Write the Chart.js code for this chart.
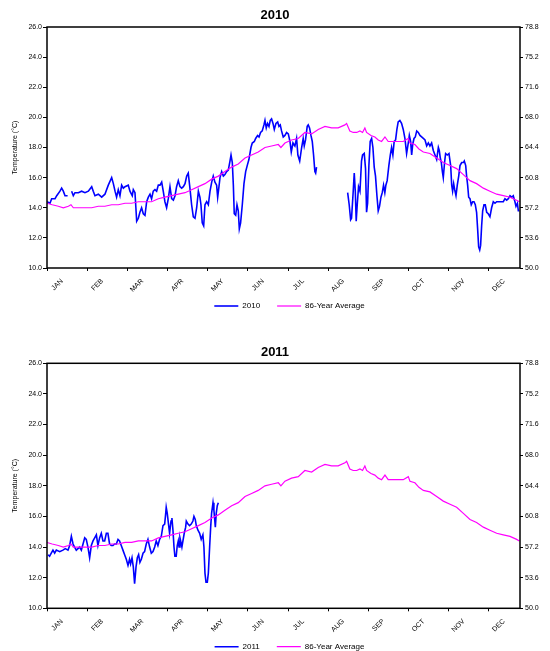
<!DOCTYPE html>
<html>
<head>
<meta charset="utf-8">
<script src="https://cdn.jsdelivr.net/npm/chart.js@4.4.1/dist/chart.umd.min.js"></script>
<style>
  html, body { margin: 0; padding: 0; background: #fff; overflow: hidden; }
  .panel { position: absolute; left: 0; width: 550px; }
  #panel2010 { top: 0; height: 340px; }
  #panel2011 { top: 325px; height: 360px; }
</style>
</head>
<body>
<div class="panel" id="panel2010"><canvas id="chart2010" width="550" height="340"></canvas></div>
<div class="panel" id="panel2011"><canvas id="chart2011" width="550" height="360"></canvas></div>
<script>
const FONT = "'Liberation Sans', Arial, sans-serif";

const monthLabels = ["JAN", "FEB", "MAR", "APR", "MAY", "JUN", "JUL", "AUG", "SEP", "OCT", "NOV", "DEC"];
const fahrenheitTicks = [50.0, 53.6, 57.2, 60.8, 64.4, 68.0, 71.6, 75.2, 78.8];

// 86-year average (day of year, deg C)
const avgDays = [
  0, 4, 8.7, 12.6, 16.5, 18.5, 20.3, 24.2, 29.3, 34.5,
  39.6, 44.7, 49.9, 55, 60.2, 65.3, 70.5, 75.6, 80.7, 85.9,
  91, 96.2, 101.3, 106.5, 111.6, 116.8, 121.9, 127.1, 132.2, 137.3,
  142.5, 147.6, 152.8, 157.9, 163, 168.2, 173.3, 178.5, 180.5, 183.6,
  188.7, 193.9, 199, 204.2, 209.3, 214.5, 219.6, 224.7, 229.9, 231.2,
  233.7, 236.3, 239, 241.5, 243.5, 245.3, 246.6, 250, 253, 255.6,
  258.2, 260.8, 263.3, 267.2, 271, 274.9, 278.8, 280.1, 283.9, 287,
  290.4, 295.5, 300.7, 305.8, 311, 316.1, 321.3, 326.4, 331.5, 336.7,
  341.8, 347, 352.1, 357.3, 362.4, 364.5
];
const avgTemps = [
  14.3, 14.2, 14.1, 14.0, 14.1, 14.2, 14.0, 14.0, 14.0, 14.0,
  14.1, 14.1, 14.2, 14.2, 14.3, 14.3, 14.4, 14.4, 14.4, 14.6,
  14.7, 14.8, 14.9, 15.0, 15.2, 15.4, 15.6, 15.9, 16.1, 16.4,
  16.7, 16.9, 17.3, 17.5, 17.7, 18.0, 18.1, 18.2, 18.0, 18.3,
  18.5, 18.6, 19.0, 18.9, 19.2, 19.4, 19.3, 19.3, 19.5, 19.6,
  19.1, 19.0, 19.0, 19.1, 19.0, 19.3, 19.0, 18.8, 18.7, 18.5,
  18.4, 18.7, 18.4, 18.4, 18.4, 18.4, 18.6, 18.3, 18.2, 17.9,
  17.7, 17.6, 17.3, 17.0, 16.8, 16.6, 16.2, 15.8, 15.6, 15.3,
  15.1, 14.9, 14.8, 14.7, 14.5, 14.4
];

// 2010 daily readings, null = missing data
const days2010 = [
  0, 2.3, 3.6, 6.2, 7.5, 10, 11.3, 12.6, 13.9, 15.9,
  17.5,
  19, 20.3, 21.6, 24.2, 26.7, 29.3, 31.9, 34.5, 35.7, 37,
  39.6, 42.2, 44.7, 47.3, 49.9, 51.2, 52.5, 53.7, 55, 56.3,
  57.6, 58.9, 60.2, 62.7, 64, 65.8, 66.6, 67.9, 69.2, 70.5,
  71.7, 73, 74.3, 75.6, 76.9, 78.2, 79.5, 80.7, 82, 83.3,
  84.6, 85.9, 87.2, 88.5, 89.7, 91, 92.3, 93.6, 94.9, 96.2,
  97.5, 98.8, 100, 101.3, 102.6, 103.9, 105.2, 106.5, 107.8, 109,
  110.3, 111.6, 112.9, 114.2, 115.5, 116.8, 118, 118.8, 119.8, 120.9,
  121.9, 123.2, 124.5, 125.8, 127.1, 128.3, 129.6, 130.9, 131.7, 132.7,
  133.5, 134.8, 136.1, 137.3, 138.6, 139.9, 141.2, 142, 143, 143.8,
  144.5, 145.6, 146.6, 147.6, 148.4, 149.4, 150.7, 152, 153.3, 154.5,
  155.8, 157.4, 158.4, 160, 161, 162.5, 163.6, 164.8, 166.1, 167.4,
  168.2, 169.2, 170.2, 171.3, 172.3, 173.3, 174.4, 175.4, 176.7, 178,
  179, 180, 181, 182.3, 183.6, 184.9, 186.2, 187.5, 188.5, 189.8,
  191.3, 192.6, 193.6, 195, 196.5, 197.7, 198.5, 199.5, 200.8, 201.6,
  202.6, 203.7, 204.7, 205.7, 206.7, 207.3, 208,
  220,
  232, 233.2, 234.3, 235, 236.3, 237.1, 237.9, 238.6, 239.4, 240.4,
  241.5, 242.7, 243.5, 244.8, 245.8, 246.6, 247.4, 248.4, 249.4, 250.5,
  251.5, 252.5, 253.5, 254.6, 255.6, 256.6, 257.7, 258.7, 259.7, 260.7,
  261.5, 262.5, 263.8, 264.9, 265.9, 266.9, 267.9, 269, 270, 271,
  272.3, 273.6, 274.9, 276.2, 277.5, 278.8, 279.6, 280.6, 281.4, 282.2,
  283.2, 284.2, 285.3, 286.5, 287.8, 289.1, 290.4, 291.7, 293, 294.3,
  295.5, 296.8, 298.1, 299.4, 300.7, 302, 302.7, 303.5, 304.3, 305.1,
  305.8, 306.9, 307.6, 308.9, 310.2, 311.5, 312.3, 313, 313.8, 314.6,
  315.6, 316.6, 317.7, 318.7, 320, 321.3, 322, 323.1, 323.8, 324.6,
  325.4, 326.4, 327.4, 328.5, 329.5, 330.5, 331.5, 332.3, 333.1, 333.9,
  334.6, 335.4, 336.2, 337.2, 338.2, 339.3, 340.5, 341.8, 343.1, 344.4,
  345.7, 347, 349.5, 352.1, 353.4, 354.7, 356, 357.3, 358.6, 359.8,
  361.1, 361.9, 363, 363.7, 364.5
];
const temps2010 = [
  14.4, 14.3, 14.6, 14.6, 14.8, 15.1, 15.3, 15.1, 14.8, 14.8,
  null,
  15.1, 14.8, 15.0, 15.0, 15.1, 15.0, 15.1, 15.4, 15.1, 14.8,
  14.9, 14.7, 14.9, 15.5, 16.0, 15.6, 15.1, 14.7, 15.2, 14.8,
  15.5, 15.3, 15.4, 15.5, 15.1, 14.8, 15.2, 15.0, 13.1, 13.3,
  13.7, 14.0, 13.6, 13.5, 14.4, 14.7, 14.9, 14.6, 15.1, 15.2,
  15.1, 15.5, 15.5, 15.7, 15.1, 14.4, 14.0, 14.6, 15.4, 14.6,
  14.5, 14.8, 15.4, 15.8, 15.4, 15.3, 15.4, 15.6, 16.1, 16.3,
  15.3, 14.2, 13.4, 13.3, 14.0, 15.1, 14.7, 14.2, 13.0, 12.8,
  14.2, 14.4, 14.2, 15.1, 15.7, 16.1, 15.7, 15.5, 14.7, 15.4,
  16.0, 16.4, 16.1, 16.2, 16.4, 16.5, 17.1, 17.5, 17.0, 15.5,
  13.6, 13.5, 14.2, 13.8, 12.6, 13.0, 14.2, 15.6, 16.4, 16.8,
  17.2, 18.0, 18.3, 18.4, 18.6, 18.8, 18.7, 19.0, 19.1, 19.5,
  19.8, 19.3, 19.6, 19.4, 19.8, 19.9, 19.6, 19.2, 19.6, 19.7,
  19.4, 19.5, 19.1, 18.7, 18.8, 19.0, 18.9, 18.4, 17.7, 18.3,
  18.1, 18.6, 17.5, 17.1, 18.0, 18.6, 18.1, 18.5, 19.4, 19.5,
  19.3, 18.8, 18.4, 17.5, 16.4, 16.3, 16.7,
  null,
  15.0, 14.2, 13.2, 13.3, 15.1, 16.3, 15.1, 13.1, 14.2, 15.4,
  15.1, 17.1, 17.5, 17.6, 16.6, 13.7, 14.3, 16.8, 18.4, 18.6,
  18.0, 16.7, 16.1, 14.8, 13.8, 14.1, 14.7, 15.0, 15.5, 15.0,
  15.5, 15.8, 16.8, 17.5, 18.0, 17.5, 18.4, 18.5, 19.2, 19.7,
  19.8, 19.6, 19.2, 18.6, 17.6, 18.3, 18.8, 18.4, 17.5, 18.2,
  18.6, 18.7, 19.1, 19.0, 18.8, 18.7, 18.6, 18.5, 18.1, 18.3,
  18.1, 18.3, 17.8, 17.5, 17.2, 18.0, 17.8, 17.3, 17.0, 16.4,
  16.0, 17.1, 17.6, 17.5, 17.6, 16.8, 15.5, 15.1, 15.6, 15.2,
  14.8, 15.5, 16.1, 16.8, 17.0, 17.0, 17.1, 16.8, 16.1, 15.5,
  14.7, 14.6, 14.2, 14.4, 14.4, 14.2, 13.7, 12.6, 11.4, 11.2,
  11.5, 12.8, 13.8, 14.2, 14.2, 13.7, 13.6, 13.4, 14.0, 14.4,
  14.3, 14.4, 14.4, 14.4, 14.6, 14.5, 14.6, 14.8, 14.7, 14.8,
  14.4, 14.1, 14.3, 13.8, 13.8
];

// 2011 readings (data ends in early May)
const days2011 = [
  0.8, 2, 3.3, 4.6, 5.9, 7.2, 9.8, 12.3, 14.1, 16.2,
  17.5, 18.8, 20.1, 21.3, 22.6, 23.9, 25.2, 26.5, 27.8, 29.1,
  30.3, 31.6, 32.9, 34.2, 35.5, 36.8, 38.1, 39.3, 40.6, 41.9,
  43.2, 44.5, 45.8, 47, 48.3, 49.6, 50.9, 52.2, 53.5, 54.8,
  56, 57.3, 58.6, 59.9, 61.2, 62.5, 63.7, 64.5, 65.6, 66.6,
  67.6, 68.7, 69.7, 70.7, 71.7, 72.8, 74.1, 75.3, 76.6, 77.9,
  79.2, 80.5, 81.8, 83.1, 84.3, 85.6, 86.9, 88.2, 89.5, 90.8,
  91.5, 92, 92.8, 93.9, 94.6, 95.7, 96.4, 97.2, 98, 98.7,
  99.7, 100.5, 101.3, 101.9, 102.6, 103.4, 104.1, 104.9, 105.9, 107,
  107.5, 108.8, 110, 111.3, 112.6, 113.4, 114.4, 115.2, 116.5, 117.8,
  119, 120.3, 121.1, 121.9, 122.7, 123.7, 124.5, 125.5, 126.3, 127,
  128.1, 128.8, 129.9, 130.6, 131.4, 132.2
];
const temps2011 = [
  13.5, 13.4, 13.6, 13.8, 13.6, 13.8, 13.7, 13.8, 13.9, 13.8,
  14.1, 14.7, 14.2, 14.0, 13.8, 13.9, 14.0, 13.8, 14.2, 14.6,
  14.5, 14.0, 13.3, 14.1, 14.4, 14.6, 14.8, 14.1, 14.6, 14.9,
  14.4, 14.4, 14.9, 14.9, 14.2, 14.1, 14.1, 14.2, 14.2, 14.5,
  14.4, 14.1, 13.8, 13.5, 13.2, 12.8, 13.2, 12.9, 13.3, 12.7,
  11.6, 12.7, 13.3, 13.5, 13.0, 13.2, 13.6, 13.7, 14.2, 14.5,
  14.0, 13.6, 13.7, 14.0, 14.4, 14.1, 14.5, 14.7, 15.4, 15.5,
  16.1, 16.6, 16.2, 15.4, 14.9, 15.7, 15.9, 15.1, 14.0, 13.4,
  13.4, 14.1, 14.4, 14.0, 14.6, 14.3, 14.0, 14.4, 14.9, 15.3,
  15.7, 15.5, 15.4, 15.5, 15.7, 16.0, 15.8, 15.4, 15.1, 14.9,
  14.5, 14.8, 14.0, 12.3, 11.7, 11.7, 12.3, 14.0, 15.3, 16.2,
  16.9, 16.4, 15.3, 16.2, 16.7, 16.9
];

const toPoints = (xs, ys) => xs.map((x, i) => ({ x, y: ys[i] }));

// black box round the plot area
const plotFrame = {
  id: "plotFrame",
  afterDatasetsDraw(chart) {
    const { ctx, chartArea: a } = chart;
    ctx.save();
    ctx.strokeStyle = "#000";
    ctx.lineWidth = 1.5;
    ctx.strokeRect(a.left, a.top, a.right - a.left, a.bottom - a.top);
    ctx.restore();
  },
};

// legend sits a bit right of the plot centre and close under the month labels
const legendNudge = {
  id: "legendNudge",
  afterLayout(chart, args, opts) {
    const lg = chart.legend;
    lg.left += 6;
    lg.right += 6;
    lg.top -= opts.lift;
    lg.bottom -= opts.lift;
  },
};

const buildChart = (canvasId, title, seriesLabel, days, temps, geo) => {
  const font = (size, weight) => ({ family: FONT, size, weight });
  return new Chart(document.getElementById(canvasId), {
    type: "line",
    data: {
      datasets: [
        {
          label: seriesLabel,
          data: toPoints(days, temps),
          borderColor: "#0000ff",
          borderWidth: 1.6,
          pointRadius: 0,
          tension: 0,
          spanGaps: false,
          order: 1,
        },
        {
          label: "86-Year Average",
          data: toPoints(avgDays, avgTemps),
          borderColor: "#ff00ff",
          borderWidth: 1.2,
          pointRadius: 0,
          tension: 0,
          order: 0,
        },
      ],
    },
    options: {
      animation: false,
      responsive: false,
      devicePixelRatio: 1,
      layout: { padding: { left: 0, right: 0, top: 0, bottom: geo.padBottom } },
      plugins: {
        title: {
          display: true,
          text: title,
          color: "#000",
          font: font(13, "bold"),
          padding: { top: geo.titleTop, bottom: geo.titleBottom },
        },
        legend: {
          position: "bottom",
          fullSize: false,
          labels: {
            usePointStyle: true,
            pointStyle: "line",
            pointStyleWidth: 24,
            color: "#000",
            font: font(8),
            padding: 17,
            sort: (a, b) => a.datasetIndex - b.datasetIndex,
          },
        },
        legendNudge: { lift: geo.legendLift },
        tooltip: { enabled: false },
      },
      scales: {
        x: {
          type: "linear",
          min: 0,
          max: 365,
          afterBuildTicks: (s) => {
            s.ticks = monthLabels.map((m, i) => ({ value: i * 31 }));
          },
          afterFit: (s) => {
            s.height = 27;
          },
          ticks: {
            autoSkip: false,
            minRotation: 45,
            maxRotation: 45,
            labelOffset: 15,
            padding: 6,
            color: "#000",
            font: font(7),
            callback: (v, i) => monthLabels[i],
          },
          grid: { drawOnChartArea: false, tickLength: 3, tickColor: "#000", color: "#000" },
          border: { display: false },
        },
        y: {
          position: "left",
          min: 10,
          max: 26,
          afterFit: (s) => {
            s.width = 47;
          },
          ticks: {
            stepSize: 2,
            padding: 1,
            color: "#000",
            font: font(7),
            callback: (v) => v.toFixed(1),
          },
          title: {
            display: true,
            text: "Temperature (°C)",
            color: "#000",
            font: font(7),
            padding: { top: 11, bottom: 0 },
          },
          grid: { drawOnChartArea: false, tickLength: 4, tickColor: "#000", color: "#000" },
          border: { display: false },
        },
        yF: {
          position: "right",
          min: 50,
          max: 78.8,
          afterBuildTicks: (s) => {
            s.ticks = fahrenheitTicks.map((v) => ({ value: v }));
          },
          afterFit: (s) => {
            s.width = 30;
          },
          ticks: {
            padding: 2,
            color: "#000",
            font: font(7),
            callback: (v) => v.toFixed(1),
          },
          grid: { drawOnChartArea: false, tickLength: 3, tickColor: "#000", color: "#000" },
          border: { display: false },
        },
      },
    },
    plugins: [plotFrame, legendNudge],
  });
};

buildChart("chart2010", "2010", "2010", days2010, temps2010, {
  titleTop: 7.2,
  titleBottom: 4.2,
  padBottom: 10,
  legendLift: 10,
});

buildChart("chart2011", "2011", "2011", days2011, temps2011, {
  titleTop: 19.2,
  titleBottom: 3.5,
  padBottom: 14.7,
  legendLift: 9.6,
});
</script>
</body>
</html>
